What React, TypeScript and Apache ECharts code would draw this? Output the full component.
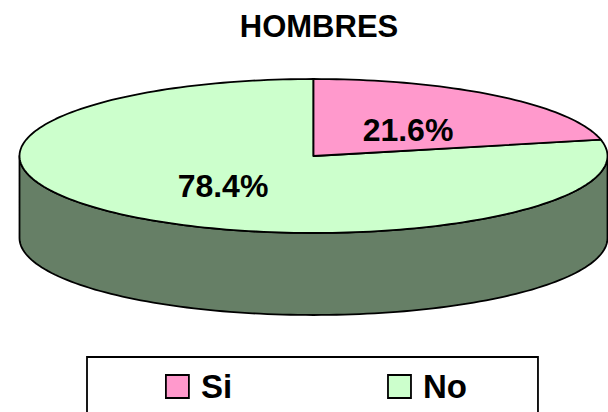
import React, { useEffect, useRef } from "react";
import * as echarts from "echarts";

const title = "HOMBRES";
const categories = ["Si", "No"];
const shares = [21.6, 78.4];
const labels = ["21.6%", "78.4%"];
const colors = ["#ff99cc", "#ccffcc"];
const wallColors = ["#805066", "#667f66"];

const CX = 313.5;
const CY = 156;
const RX = 294;
const RY = 77;
const DEPTH = 82;
const labelCenters = [
  [408, 130],
  [223, 186],
];

const total = shares.reduce((a, b) => a + b, 0);
const pt = (deg: number, dy = 0) => {
  const r = (deg * Math.PI) / 180;
  return [CX + RX * Math.sin(r), CY - RY * Math.cos(r) + dy];
};
const arc = (from: number, to: number, dy = 0) => {
  const n = Math.max(2, Math.ceil((to - from) / 1.5));
  const out: number[][] = [];
  for (let i = 0; i <= n; i++) out.push(pt(from + ((to - from) * i) / n, dy));
  return out;
};
const stroke = { stroke: "#000", lineWidth: 1.8, lineJoin: "round" as const };

const makeSeries = (index: number) => {
  const start = (shares.slice(0, index).reduce((a, b) => a + b, 0) / total) * 360;
  const end = start + (shares[index] / total) * 360;
  return {
    type: "custom" as const,
    name: categories[index],
    coordinateSystem: "none",
    itemStyle: { color: colors[index] },
    data: [shares[index]],
    z: 2,
    renderItem: (_p: unknown, api: any) => {
      const children: any[] = [];
      const a = Math.max(start, 90);
      const b = Math.min(end, 270);
      if (b > a) {
        const front = arc(a, b);
        const back = arc(a, b, DEPTH).reverse();
        children.push({
          type: "polygon",
          shape: { points: [...front, ...back] },
          style: { fill: wallColors[index], ...stroke },
        });
      }
      children.push({
        type: "polygon",
        shape: { points: [[CX, CY], ...arc(start, end)] },
        style: { fill: api.visual("color"), ...stroke },
      });
      children.push({
        type: "text",
        style: {
          text: labels[index],
          x: labelCenters[index][0],
          y: labelCenters[index][1],
          align: "center",
          verticalAlign: "middle",
          fill: "#000",
          font: 'bold 32px "Liberation Sans", Arial, sans-serif',
        },
      });
      return { type: "group", children };
    },
  };
};

export default function App() {
  const ref = useRef<HTMLDivElement>(null);
  useEffect(() => {
    document.body.style.margin = "0";
    const chart = echarts.init(ref.current!, undefined, { renderer: "svg" });
    chart.setOption({
      animation: false,
      backgroundColor: "#fff",
      title: {
        text: title,
        left: 314,
        top: 6,
        textAlign: "center",
        textStyle: {
          fontFamily: '"Liberation Sans", Arial, sans-serif',
          fontWeight: "bold",
          fontSize: 31,
          color: "#000",
        },
      },
      legend: {
        data: categories,
        orient: "horizontal",
        left: 87,
        top: 357,
        padding: [13, 71, 30, 78],
        borderColor: "#000",
        borderWidth: 1.8,
        itemWidth: 23,
        itemHeight: 23,
        itemGap: 155,
        icon: "rect",
        selectedMode: false,
        itemStyle: { borderColor: "#000", borderWidth: 1.8 },
        textStyle: {
          fontFamily: '"Liberation Sans", Arial, sans-serif',
          fontWeight: "bold",
          fontSize: 33,
          color: "#000",
          padding: [0, 0, 0, 7],
        },
      },
      series: [makeSeries(1), makeSeries(0)],
    });
    return () => chart.dispose();
  }, []);
  return <div ref={ref} style={{ width: 608, height: 412 }} />;
}
